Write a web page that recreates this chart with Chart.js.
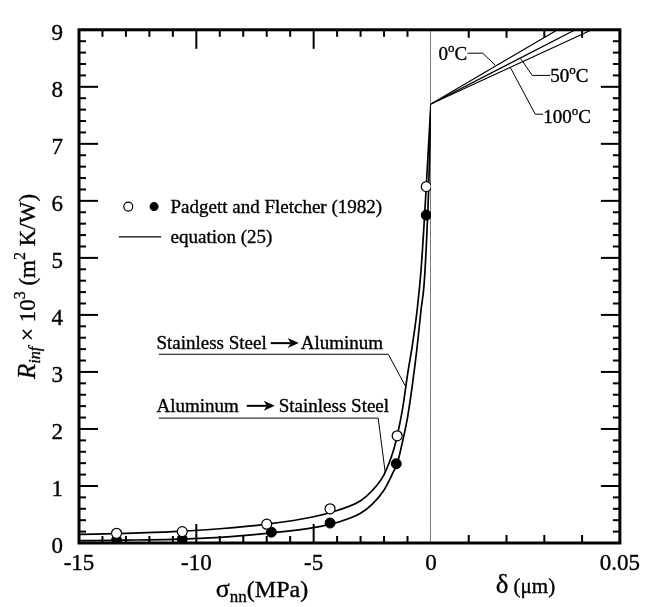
<!DOCTYPE html>
<html><head><meta charset="utf-8">
<script src="https://cdn.jsdelivr.net/npm/chart.js@4.4.1/dist/chart.umd.min.js"></script>
<style>html,body{margin:0;padding:0;background:#fff}</style>
</head><body>
<canvas id="c" width="647" height="607"></canvas>
<script>
// ---------- data ----------
const sigmaCurve = [-15,-13,-11,-9,-7,-5,-4,-3,-2.5,-2,-1.6,-1.44,-1.2,-1.0,-0.8,-0.6,-0.42,-0.3,-0.2,-0.1,0];
const rUpper     = [0.15,0.17,0.2,0.25,0.33,0.46,0.57,0.74,0.92,1.2,1.62,1.88,2.38,2.95,3.45,4.05,4.8,5.55,6.25,7.0,7.7];
const rLower     = [0.04,0.05,0.065,0.1,0.17,0.27,0.36,0.52,0.68,0.93,1.25,1.39,1.8,2.2,2.75,3.4,4.1,4.5,5.2,6.2,7.7];
const sigmaOpen  = [-13.4,-10.6,-7.0,-4.3,-1.44,-0.2];
const rOpen      = [0.17,0.2,0.33,0.6,1.88,6.25];
const sigmaFilled= [-13.4,-10.6,-6.8,-4.3,-1.48,-0.2];
const rFilled    = [0.05,0.07,0.19,0.35,1.39,5.75];
const delta0C    = [0, 0.0335];
const r0C        = [7.7, 9];
const delta50C   = [0, 0.0382];
const r50C       = [7.7, 9];
const delta100C  = [0, 0.0426];
const r100C      = [7.7, 9];
const stressTicks = [-15,-10,-5,0];
const gapTicks    = [0.05];
const yTicks      = [0,1,2,3,4,5,6,7,8,9];

const SERIF = '"Liberation Serif", "Times New Roman", serif';
const pts = (xs, ys) => xs.map((x,i)=>({x, y: ys[i]}));

// ---------- plugin: frame, inward ticks, texts ----------
const decor = {
  id: 'decor',
  afterDatasetsDraw(chart) {
    const ctx = chart.ctx, a = chart.chartArea;
    const xs = chart.scales.x, xg = chart.scales.x2, ys = chart.scales.y;
    ctx.save();
    ctx.strokeStyle = '#000'; ctx.fillStyle = '#000';
    ctx.lineWidth = 2;
    const tick = (x1,y1,x2,y2)=>{ctx.beginPath();ctx.moveTo(x1,y1);ctx.lineTo(x2,y2);ctx.stroke();};
    for (let k = 0; k <= 45; k++) {
      const v = k/5, py = ys.getPixelForValue(v);
      const L = (k % 5 === 0) ? 19 : 7;
      tick(a.left, py, a.left + L, py);
      tick(a.right, py, a.right - L, py);
    }
    for (let v = -15; v < 0; v++) {
      const px = xs.getPixelForValue(v);
      const L = (v % 5 === 0) ? 19 : 7;
      tick(px, a.bottom, px, a.bottom - L);
      tick(px, a.top, px, a.top + L);
    }
    for (let k = 1; k < 5; k++) {
      const px = xg.getPixelForValue(k/100);
      tick(px, a.bottom, px, a.bottom - 8);
      tick(px, a.top, px, a.top + 8);
    }
    ctx.lineWidth = 3;
    ctx.strokeRect(a.left, a.top, a.right - a.left, a.bottom - a.top);

    const X = v => xs.getPixelForValue(v), G = v => xg.getPixelForValue(v), Y = v => ys.getPixelForValue(v);
    const txt = (t, x, y) => { ctx.lineWidth = 0.35; ctx.fillText(t, x, y); ctx.strokeText(t, x, y); };
    const rich = (parts, x, y, align) => {
      let w = 0;
      parts.forEach(p => { ctx.font = p.f; p.w = ctx.measureText(p.t).width; w += p.w; });
      let cx = align === 'center' ? x - w/2 : x;
      ctx.textBaseline = 'alphabetic'; ctx.textAlign = 'left';
      parts.forEach(p => { ctx.font = p.f; txt(p.t, cx, y + (p.dy||0)); cx += p.w; });
    };
    const f = (s, style) => (style||'') + ' ' + s + 'px ' + SERIF;

    // y title
    ctx.save();
    ctx.translate(35, (a.top + a.bottom)/2);
    ctx.rotate(-Math.PI/2);
    rich([
      {t:'R', f:f(25,'italic')},
      {t:'inf', f:f(16,'italic'), dy:5},
      {t:' \u00D7 10', f:f(23)},
      {t:'3', f:f(16), dy:-10},
      {t:' (m', f:f(23)},
      {t:'2', f:f(16), dy:-10},
      {t:' K/W)', f:f(23)}
    ], 0, 0, 'center');
    ctx.restore();

    // x titles
    rich([{t:'\u03C3', f:f(26)},{t:'nn', f:f(17), dy:5},{t:'(MPa)', f:f(24)}], X(-7.2), 597, 'center');
    rich([{t:'\u03B4', f:f(27)},{t:' (\u03BCm)', f:f(21)}], G(0.025), 593, 'center');

    // legend
    ctx.lineWidth = 1.2;
    ctx.beginPath(); ctx.arc(X(-12.9), Y(5.9), 4.5, 0, 2*Math.PI); ctx.fillStyle='#fff'; ctx.fill(); ctx.stroke();
    ctx.beginPath(); ctx.arc(X(-11.8), Y(5.9), 4.5, 0, 2*Math.PI); ctx.fillStyle='#000'; ctx.fill();
    rich([{t:'Padgett and Fletcher (1982)', f:f(19)}], X(-11.1), Y(5.9)+6);
    ctx.lineWidth = 1.3;
    ctx.beginPath(); ctx.moveTo(X(-13.3), Y(5.37)); ctx.lineTo(X(-11.5), Y(5.37)); ctx.stroke();
    rich([{t:'equation (25)', f:f(19)}], X(-11.1), Y(5.37)+6);

    const arrow = (x1, x2, y) => {
      ctx.lineWidth = 2;
      ctx.beginPath(); ctx.moveTo(x1, y); ctx.lineTo(x2 - 8, y); ctx.stroke();
      ctx.beginPath(); ctx.moveTo(x2, y); ctx.lineTo(x2 - 11, y - 5); ctx.lineTo(x2 - 8, y); ctx.lineTo(x2 - 11, y + 5); ctx.closePath(); ctx.fill();
    };
    const poly = (arr) => { ctx.lineWidth = 1; ctx.beginPath(); arr.forEach((p,i)=> i?ctx.lineTo(p[0],p[1]):ctx.moveTo(p[0],p[1])); ctx.stroke(); };
    ctx.fillStyle = '#000';
    let yb = Y(3.4);
    ctx.font = f(19); ctx.textAlign='left'; ctx.textBaseline='alphabetic';
    txt('Stainless Steel', X(-11.7), yb);
    let w1 = ctx.measureText('Stainless Steel').width;
    arrow(X(-11.7)+w1+4, X(-11.7)+w1+32, yb-6);
    ctx.font = f(19);
    txt('Aluminum', X(-11.7)+w1+34, yb);
    poly([[X(-11.6), Y(3.31)], [X(-1.82), Y(3.31)], [X(-1.06), Y(2.73)]]);
    yb = Y(2.3);
    txt('Aluminum', X(-11.7), yb);
    let w2 = ctx.measureText('Aluminum').width;
    arrow(X(-11.7)+w2+8, X(-11.7)+w2+36, yb-6);
    txt('Stainless Steel', X(-11.7)+w2+40, yb);
    poly([[X(-11.6), Y(2.19)], [X(-2.25), Y(2.19)], [X(-1.95), Y(1.24)]]);

    rich([{t:'0', f:f(19)},{t:'o', f:f(13), dy:-8},{t:'C', f:f(19)}], G(0.0058), Y(8.59)+7, 'center');
    poly([[G(0.0097), Y(8.59)], [G(0.0137), Y(8.59)], [G(0.017), Y(8.38)]]);
    rich([{t:'50', f:f(19)},{t:'o', f:f(13), dy:-8},{t:'C', f:f(19)}], G(0.0366), Y(8.2)+7, 'center');
    poly([[G(0.0316), Y(8.2)], [G(0.0268), Y(8.2)], [G(0.0237), Y(8.5)]]);
    rich([{t:'100', f:f(19)},{t:'o', f:f(13), dy:-8},{t:'C', f:f(19)}], G(0.036), Y(7.49)+7, 'center');
    poly([[G(0.0297), Y(7.52)], [G(0.0276), Y(7.52)], [G(0.021), Y(8.34)]]);
    ctx.restore();
  }
};

const lineDs = (label, data, axis, w) => ({
  type:'line', label, data, xAxisID: axis, borderColor:'#000', borderWidth: w, pointRadius:0,
  fill:false, tension:0, cubicInterpolationMode:'monotone', order: 2
});
const tickFont = {family:SERIF, size:23};

new Chart(document.getElementById('c'), {
  type: 'scatter',
  data: {
    datasets: [
      lineDs('SS to Al', pts(sigmaCurve, rUpper), 'x', 1.7),
      lineDs('Al to SS', pts(sigmaCurve, rLower), 'x', 1.7),
      lineDs('zero', pts([0,0],[0,9]), 'x', 1),
      lineDs('0C', pts(delta0C, r0C), 'x2', 1.2),
      lineDs('50C', pts(delta50C, r50C), 'x2', 1.2),
      lineDs('100C', pts(delta100C, r100C), 'x2', 1.2),
      {label:'open', data: pts(sigmaOpen, rOpen), xAxisID:'x', pointRadius:5, pointBackgroundColor:'#fff', pointBorderColor:'#000', pointBorderWidth:1.2, showLine:false, order:1},
      {label:'filled', data: pts(sigmaFilled, rFilled), xAxisID:'x', pointRadius:5, pointBackgroundColor:'#000', pointBorderColor:'#000', pointBorderWidth:1, showLine:false, order:1}
    ]
  },
  options: {
    responsive:false, animation:false, devicePixelRatio:1,
    layout:{padding:{left:0, top:13, right:24, bottom:0}},
    plugins:{legend:{display:false}, tooltip:{enabled:false}},
    scales:{
      x:{type:'linear', position:'bottom', stack:'bx', stackWeight:354, min:-15, max:0,
         grid:{display:false, drawTicks:false}, border:{display:false},
         afterBuildTicks: s => { s.ticks = stressTicks.map(v=>({value:v})); },
         ticks:{color:'#000', font:tickFont, padding:7, maxRotation:0, autoSkip:false, textStrokeColor:'#000', textStrokeWidth:0.35, callback: v => String(v)},
         afterFit: s => { s.height = 64; }},
      x2:{type:'linear', position:'bottom', stack:'bx', stackWeight:190, min:0, max:0.05,
         grid:{display:false, drawTicks:false}, border:{display:false},
         afterBuildTicks: s => { s.ticks = gapTicks.map(v=>({value:v})); },
         ticks:{color:'#000', font:tickFont, padding:7, maxRotation:0, autoSkip:false, textStrokeColor:'#000', textStrokeWidth:0.35, callback: v => String(v)},
         afterFit: s => { s.height = 64; }},
      y:{type:'linear', min:0, max:9,
         grid:{display:false, drawTicks:false}, border:{display:false},
         afterBuildTicks: s => { s.ticks = yTicks.map(v=>({value:v})); },
         ticks:{color:'#000', font:tickFont, padding:16, labelOffset:4, autoSkip:false, textStrokeColor:'#000', textStrokeWidth:0.35},
         afterFit: s => { s.width = 79; }}
    }
  },
  plugins:[decor]
});
</script>
</body></html>
